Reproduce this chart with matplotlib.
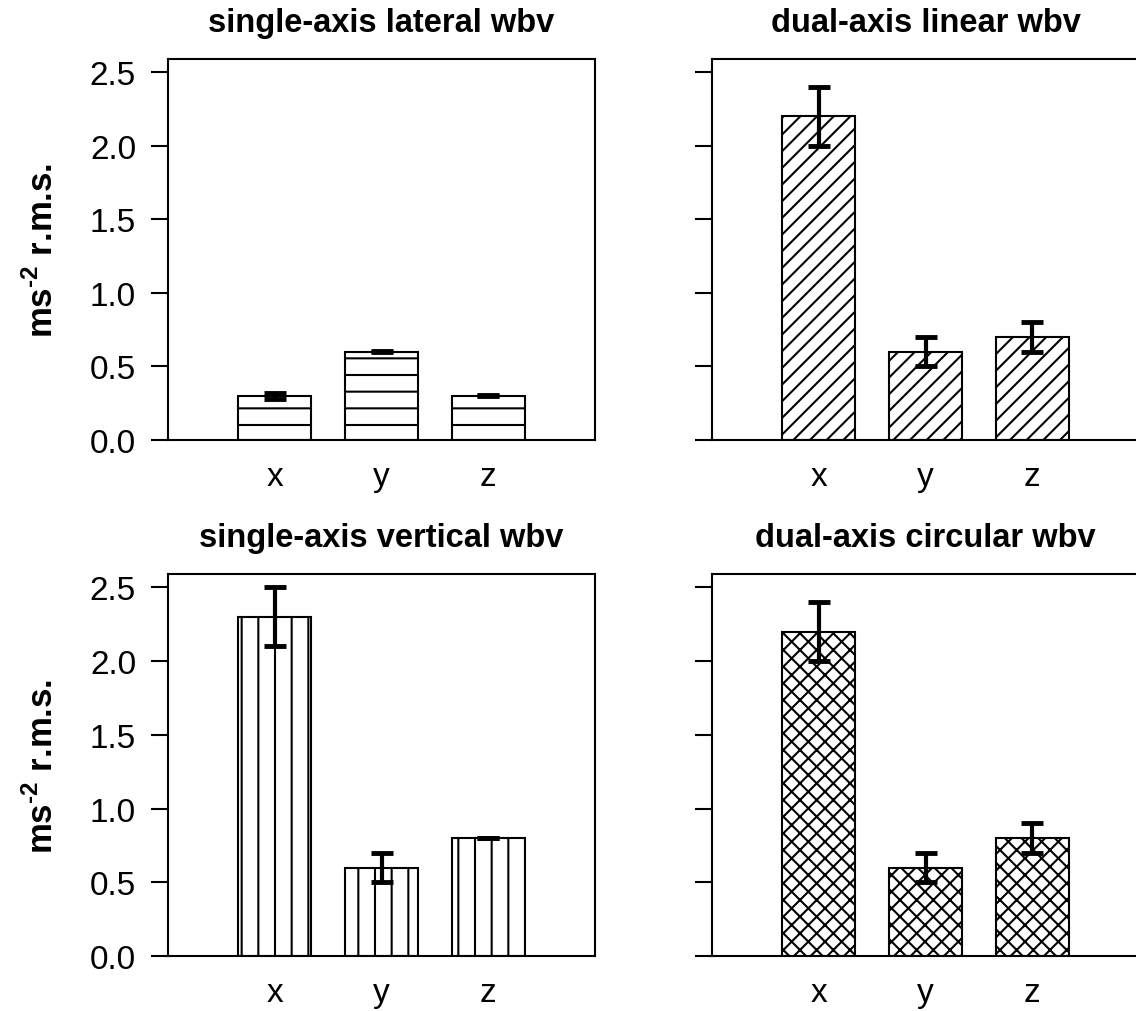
import matplotlib
matplotlib.use("Agg")
import matplotlib.pyplot as plt

plt.rcParams['font.family'] = ['Liberation Sans', 'DejaVu Sans']
plt.rcParams['mathtext.fontset'] = 'custom'
plt.rcParams['mathtext.rm'] = 'Liberation Sans:bold'
plt.rcParams['mathtext.bf'] = 'Liberation Sans:bold'
plt.rcParams['hatch.linewidth'] = 1.5

axes_names = ['x', 'y', 'z']

titles = ['single-axis lateral wbv', 'dual-axis linear wbv',
          'single-axis vertical wbv', 'dual-axis circular wbv']
hatches = ['-', '//', '|', 'xx']

lateral_mean = [0.30, 0.60, 0.30]
lateral_err = [0.02, 0.003, 0.004]
linear_mean = [2.2, 0.6, 0.7]
linear_err = [0.2, 0.1, 0.1]
vertical_mean = [2.3, 0.6, 0.8]
vertical_err = [0.2, 0.1, 0.003]
circular_mean = [2.2, 0.6, 0.8]
circular_err = [0.2, 0.1, 0.1]

means = [lateral_mean, linear_mean, vertical_mean, circular_mean]
errs = [lateral_err, linear_err, vertical_err, circular_err]

W, H = 1136, 1012
fig = plt.figure(figsize=(W / 100, H / 100), dpi=100)

# panel boxes in pixels: left, top, right, bottom
boxes = [(168, 60, 595, 441), (712, 60, 1139, 441),
         (168, 575, 595, 957), (712, 575, 1139, 957)]

for i in range(4):
    l, t, r, b = boxes[i]
    ax = fig.add_axes([l / W, 1 - b / H, (r - l) / W, (b - t) / H])
    pos = range(len(axes_names))
    ax.bar(pos, means[i], width=0.68, color='white', edgecolor='black',
           linewidth=1.5, hatch=hatches[i], zorder=2)
    ax.errorbar(pos, means[i], yerr=errs[i], fmt='none', ecolor='black',
                elinewidth=3, capsize=8, capthick=3.5, zorder=3)
    ax.set_xlim(-1, 3)
    ax.set_ylim(0, 2.59)
    ax.set_xticks(list(pos))
    ax.set_xticklabels(axes_names, fontsize=24)
    ax.set_yticks([0.0, 0.5, 1.0, 1.5, 2.0, 2.5])
    if i % 2 == 0:
        ax.set_yticklabels(['0.0', '0.5', '1.0', '1.5', '2.0', '2.5'], fontsize=24)
        ax.set_ylabel('ms$^{\\text{-2}}$ r.m.s.', fontsize=25, fontweight='bold')
        ax.yaxis.set_label_coords(-0.253, 0.5)
    else:
        ax.set_yticklabels([])
    ax.tick_params(axis='x', length=0, pad=15)
    ax.tick_params(axis='y', length=12, width=1.5, pad=11)
    for s in ax.spines.values():
        s.set_linewidth(1.5)
    ax.set_title(titles[i], fontsize=23.5, fontweight='bold', pad=20)

fig.savefig('out.png', dpi=100)
